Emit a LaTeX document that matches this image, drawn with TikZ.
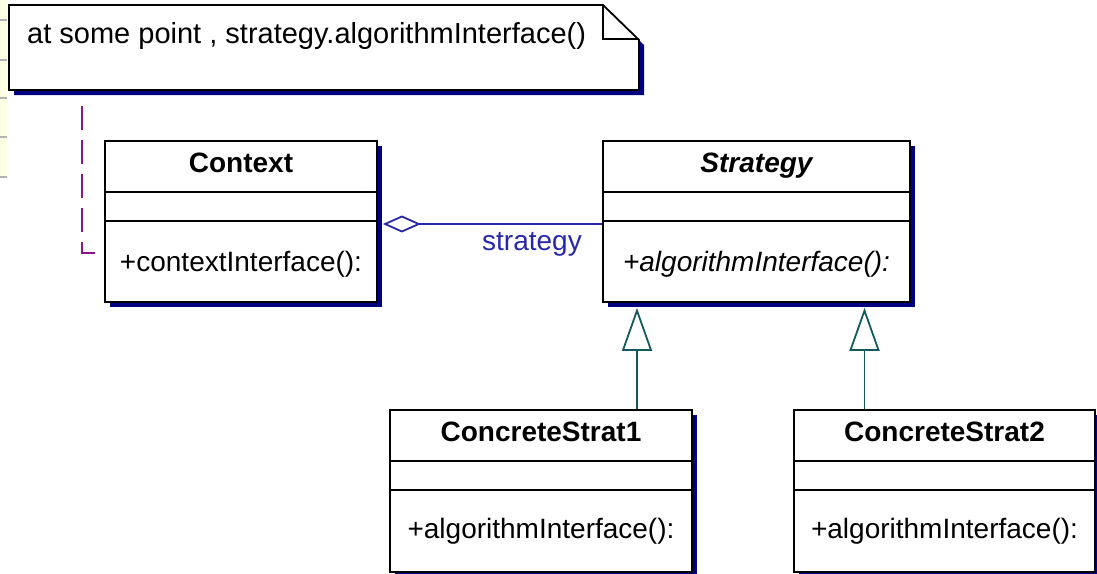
\documentclass[tikz,border=0pt]{standalone}
\usepackage{fontspec}
\setmainfont{Liberation Sans}
\usetikzlibrary{arrows.meta,shadows}

\definecolor{shadowblue}{RGB}{0,0,128}
\definecolor{assocblue}{RGB}{40,40,170}
\definecolor{inhteal}{RGB}{20,90,90}
\definecolor{notepurple}{RGB}{140,20,140}
\definecolor{stripyellow}{RGB}{255,255,228}

\tikzset{
    classbox/.style={draw=black, line width=1.8pt, fill=white, inner sep=0pt,
        drop shadow={shadow xshift=5pt, shadow yshift=-5pt, fill=shadowblue, opacity=1}},
    classname/.style={font=\fontsize{28}{32}\selectfont\bfseries, inner sep=0pt},
    opname/.style={font=\fontsize{28}{32}\selectfont, inner sep=0pt},
    rolename/.style={font=\fontsize{28}{32}\selectfont, text=assocblue, inner sep=0pt},
    inherit/.style={draw=inhteal, line width=1.8pt,
        -{Triangle[open, length=43pt, width=30pt, fill=white]}},
    aggr/.style={draw=assocblue, line width=1.8pt,
        -{Diamond[open, length=38pt, width=17pt, fill=white]}},
    notelink/.style={draw=notepurple, line width=2pt, dash pattern=on 24pt off 10pt}
}

\begin{document}
\begin{tikzpicture}[x=1pt, y=-1pt]
        \useasboundingbox (0,0) rectangle (1097,573);
        \clip (0,0) rectangle (1097,573);
        % strip at the left edge
        \fill [stripyellow] (0,0) rectangle (7,178);
        \draw [gray!60, line width=1.5pt] (0,20) -- (7,20) (0,60) -- (7,60)
            (0,98) -- (7,98) (0,137) -- (7,137) (0,177) -- (7,177);
        % note
        \fill [shadowblue] (14,10) -- (608,10) -- (644,45) -- (644,95) -- (14,95) -- cycle;
        \draw [line width=1.8pt, fill=white] (9,5) -- (603,5) -- (639,40) -- (639,90)
            -- (9,90) -- cycle;
        \draw [line width=1.8pt] (603,5) -- (603,39) -- (639,39);
        \node [opname, font=\fontsize{29}{33}\selectfont, anchor=base west] (notetext) at (27,43)
            {at some point , strategy.algorithmInterface()};
        % classes
        \node [classbox, minimum width=272pt, minimum height=161pt] (context) at (241,221.5) {};
        \draw [line width=1.8pt] ([yshift=-52pt]context.north west) -- ([yshift=-52pt]context.north east)
            ([yshift=-81pt]context.north west) -- ([yshift=-81pt]context.north east);
        \node [classname, anchor=base] (contextname) at (241,172) {Context};
        \node [opname, anchor=base] (contextop) at (241,271) {+contextInterface():};

        \node [classbox, minimum width=307pt, minimum height=161pt] (strategy) at (756.5,221.5) {};
        \draw [line width=1.8pt] ([yshift=-52pt]strategy.north west) -- ([yshift=-52pt]strategy.north east)
            ([yshift=-81pt]strategy.north west) -- ([yshift=-81pt]strategy.north east);
        \node [classname, font=\fontsize{28}{32}\selectfont\bfseries\itshape, anchor=base]
            (strategyname) at (756.5,172) {Strategy};
        \node [opname, font=\fontsize{28}{32}\selectfont\itshape, anchor=base]
            (strategyop) at (756.5,271) {+algorithmInterface():};

        \node [classbox, minimum width=302pt, minimum height=162pt] (strat1) at (541,491) {};
        \draw [line width=1.8pt] ([yshift=-52pt]strat1.north west) -- ([yshift=-52pt]strat1.north east)
            ([yshift=-81pt]strat1.north west) -- ([yshift=-81pt]strat1.north east);
        \node [classname, anchor=base] (strat1name) at (541,441) {ConcreteStrat1};
        \node [opname, anchor=base] (strat1op) at (541,538) {+algorithmInterface():};

        \node [classbox, minimum width=301pt, minimum height=162pt] (strat2) at (944.5,491) {};
        \draw [line width=1.8pt] ([yshift=-52pt]strat2.north west) -- ([yshift=-52pt]strat2.north east)
            ([yshift=-81pt]strat2.north west) -- ([yshift=-81pt]strat2.north east);
        \node [classname, anchor=base] (strat2name) at (944.5,441) {ConcreteStrat2};
        \node [opname, anchor=base] (strat2op) at (944.5,538) {+algorithmInterface():};

        % connectors
        \path (strat1.north) ++(96,0) coordinate (base1);
        \path (strategy.south -| base1) ++(0,5) coordinate (tip1);
        \draw [inherit] (base1) -- (tip1);
        \path (strat2.north) ++(-80,0) coordinate (base2);
        \path (strategy.south -| base2) ++(0,5) coordinate (tip2);
        \draw [inherit] (base2) -- (tip2);

        \path (strategy.west) ++(0,2.5) coordinate (aggend);
        \path (context.east) ++(5,2.5) coordinate (aggstart);
        \draw [aggr] (aggend) -- (aggstart);
        \node [rolename, anchor=base east] (rolelabel) at (582,250) {strategy};

        \coordinate (notefoot) at (82,106);
        \path (context.west) ++(0,31.5) coordinate (ctxhook);
        \draw [notelink] (notefoot) |- (ctxhook);
    \end{tikzpicture}
\end{document}
